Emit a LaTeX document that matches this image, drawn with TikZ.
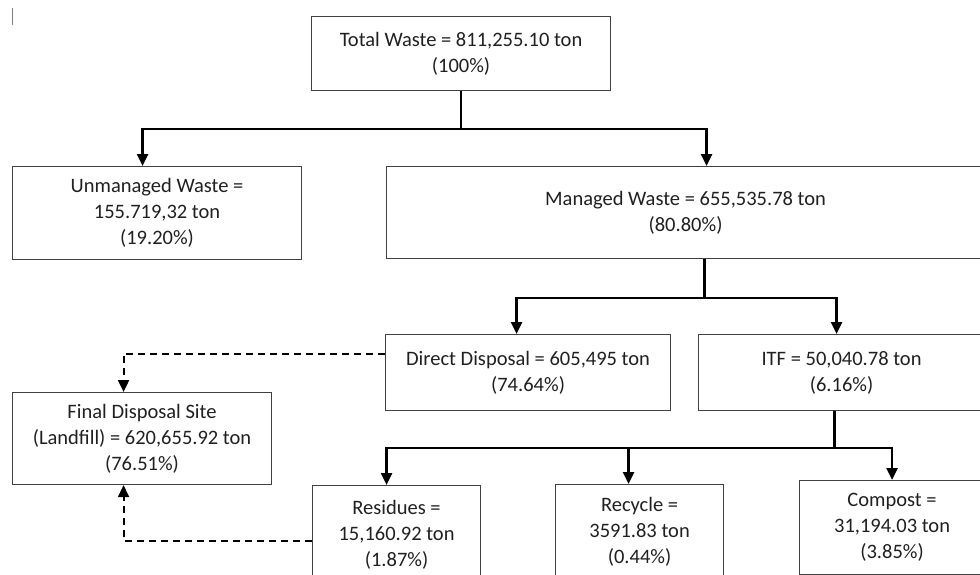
\documentclass[tikz,border=0pt]{standalone}
\usepackage{fontspec}
\setmainfont{Carlito}
\usetikzlibrary{arrows.meta}
\definecolor{boxgray}{HTML}{404040}
\definecolor{txt}{HTML}{202020}
\begin{document}
\begin{tikzpicture}[x=1pt,y=-1pt,
  box/.style={draw=boxgray, line width=1.1pt, anchor=north west, align=center, inner sep=0pt,
    font=\fontsize{20.5}{26}\selectfont, text=txt},
  conn/.style={line width=2.2pt, black},
  link/.style={conn, -{Triangle[width=11pt,length=12pt]}},
  dlink/.style={link, line width=2pt, dash pattern=on 7pt off 5pt}]
\useasboundingbox (0,0) rectangle (980,574);
\clip (0,0) rectangle (980,574);
\draw[gray, line width=0.8pt] (12,8) -- (12,25);
% boxes
\node[box, minimum width=299, minimum height=74] (total) at (311,16) {Total Waste = 811,255.10 ton\\(100\%)};
\node[box, minimum width=289, minimum height=93] (unman) at (12,166) {Unmanaged Waste =\\155.719,32 ton\\(19.20\%)};
\node[box, minimum width=598, minimum height=92] (man) at (386,166) {Managed Waste = 655,535.78 ton\\(80.80\%)};
\node[box, minimum width=285, minimum height=76] (direct) at (385,334) {Direct Disposal = 605,495 ton\\(74.64\%)};
\node[box, minimum width=286, minimum height=76] (itf) at (698,334) {ITF = 50,040.78 ton\\(6.16\%)};
\node[box, minimum width=259, minimum height=92] (final) at (12,392) {Final Disposal Site\\(Landfill) = 620,655.92 ton\\(76.51\%)};
\node[box, minimum width=168, minimum height=98] (resid) at (312,485) {Residues =\\15,160.92 ton\\(1.87\%)};
\node[box, minimum width=168, minimum height=94] (recyc) at (555,484) {Recycle =\\3591.83 ton\\(0.44\%)};
\node[box, minimum width=185, minimum height=94] (comp) at (799,480) {Compost =\\31,194.03 ton\\(3.85\%)};
% level 1
\path (total.south) ++(0,38) coordinate (j1);
\draw[conn] (total.south) -- (j1);
\draw[link] (j1) -| ([xshift=-14.5pt]unman.north);
\draw[link] (j1) -| ([xshift=21pt]man.north);
% level 2
\path ([xshift=19pt]man.south) ++(0,39) coordinate (j2);
\draw[conn] ([xshift=19pt]man.south) -- (j2);
\draw[link] (j2) -| ([xshift=-11.5pt]direct.north);
\draw[link] (j2) -| ([xshift=-5pt]itf.north);
% level 3
\path ([xshift=-7pt]itf.south) ++(0,37) coordinate (j3);
\draw[conn] ([xshift=-7pt]itf.south) -- (j3);
\draw[link] (j3) -| ([xshift=-10pt]resid.north);
\draw[link] (j3) -| ([xshift=-11pt]recyc.north);
\draw[link] (j3) -| (comp.north);
% dashed to landfill
\draw[dlink] ([yshift=19pt]direct.west) -| ([xshift=-18.5pt]final.north);
\draw[dlink] ([yshift=-6pt]resid.west) -| ([xshift=-18.5pt]final.south);
\end{tikzpicture}
\end{document}
